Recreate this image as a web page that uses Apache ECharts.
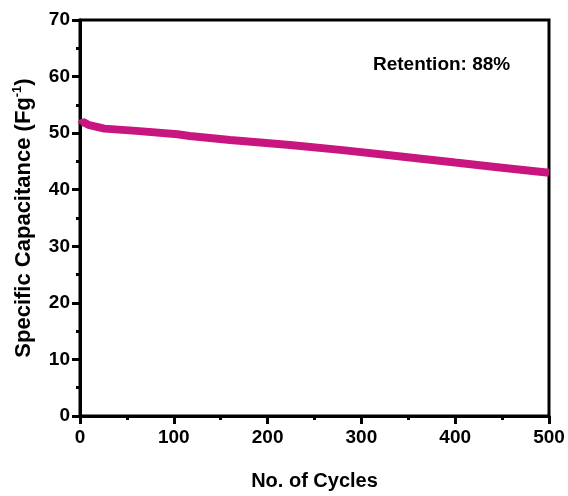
<!DOCTYPE html>
<html>
<head>
<meta charset="utf-8">
<script src="https://cdn.jsdelivr.net/npm/echarts@6/dist/echarts.min.js"></script>
<style>html,body{margin:0;padding:0;background:#fff;}#c{width:568px;height:496px;}</style>
</head>
<body>
<div id="c"></div>
<script>
var cycles = [1, 3, 10, 26, 60, 104, 117, 160, 224, 280, 330, 400, 450, 500];
var capacitance = [51.5, 52.0, 51.4, 50.8, 50.4, 49.8, 49.5, 48.8, 47.9, 47.0, 46.1, 44.8, 43.9, 43.0];
var xTicks = [0, 100, 200, 300, 400, 500];
var yTicks = [0, 10, 20, 30, 40, 50, 60, 70];
var annotation = 'Retention: 88%';

var chart = echarts.init(document.getElementById('c'), null, {renderer: 'canvas'});
var font = 'Liberation Sans, Arial, sans-serif';
chart.setOption({
  animation: false,
  backgroundColor: '#fff',
  grid: {left: 80, right: 19, top: 20, bottom: 80, show: true, borderColor: '#000', borderWidth: 3, backgroundColor: 'transparent'},
  xAxis: {
    type: 'value', min: xTicks[0], max: xTicks[xTicks.length - 1], interval: 100,
    name: 'No. of Cycles', nameLocation: 'middle', nameGap: 55,
    nameTextStyle: {fontFamily: font, fontWeight: 'bold', fontSize: 20, color: '#000'},
    axisLine: {show: true, lineStyle: {color: '#000', width: 3}},
    axisTick: {show: true, inside: false, length: 8, lineStyle: {color: '#000', width: 3}},
    minorTick: {show: true, splitNumber: 2, length: 4, lineStyle: {color: '#000', width: 3}},
    axisLabel: {fontFamily: font, fontWeight: 'bold', fontSize: 19, color: '#000', margin: 12},
    splitLine: {show: false}
  },
  yAxis: {
    type: 'value', min: yTicks[0], max: yTicks[yTicks.length - 1], interval: 10,
    name: 'Specific Capacitance (Fg{sup|-1})', nameLocation: 'middle', nameGap: 44,
    nameTextStyle: {fontFamily: font, fontWeight: 'bold', fontSize: 22, color: '#000',
      rich: {sup: {fontFamily: font, fontWeight: 'bold', fontSize: 13, color: '#000', verticalAlign: 'top', padding: [0, 0, 12, 0]}}},
    axisLine: {show: true, lineStyle: {color: '#000', width: 3}},
    axisTick: {show: true, inside: false, length: 8, lineStyle: {color: '#000', width: 3}},
    minorTick: {show: true, splitNumber: 2, length: 4, lineStyle: {color: '#000', width: 3}},
    axisLabel: {fontFamily: font, fontWeight: 'bold', fontSize: 19, color: '#000', margin: 10},
    splitLine: {show: false}
  },
  graphic: [{
    type: 'text', left: 373, top: 55,
    style: {text: annotation, font: 'bold 19px ' + font, fill: '#000'}
  }],
  series: [{
    type: 'line',
    data: cycles.map(function (c, i) { return [c, capacitance[i]]; }),
    showSymbol: false, symbol: 'none',
    lineStyle: {color: '#C8157F', width: 8},
    itemStyle: {color: '#C8157F'}
  }]
});
</script>
</body>
</html>
